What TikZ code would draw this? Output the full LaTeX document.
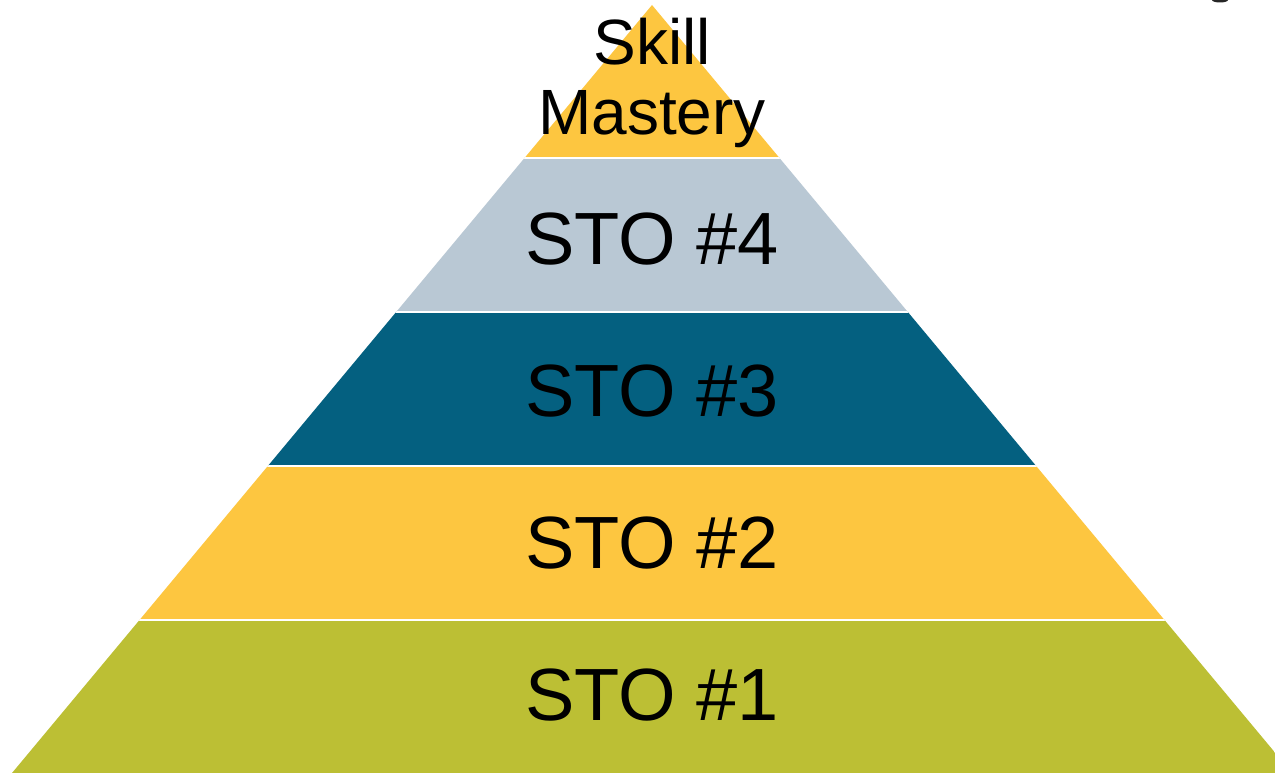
\documentclass[tikz,border=0pt]{standalone}
\usepackage{fontspec}
\setmainfont{Liberation Sans}
\definecolor{pyrYellow}{RGB}{253,198,64}
\definecolor{pyrGray}{RGB}{185,200,212}
\definecolor{pyrTeal}{RGB}{4,96,128}
\definecolor{pyrGreen}{RGB}{188,191,52}
\begin{document}
\begin{tikzpicture}[x=1pt,y=-1pt,
  stolabel/.style={font=\fontsize{74}{80}\selectfont, inner sep=0pt, anchor=base, text=black},
  toplabel/.style={font=\fontsize{64}{70}\selectfont, inner sep=0pt, anchor=base, text=black},
  gap/.style={white, line width=2pt}]
  \useasboundingbox (0,0) rectangle (1275,773);
  \clip (0,0) rectangle (1275,773);
  % pyramid body, sliced into five bands
  \begin{scope}
    \clip (652,5) -- (12,773) -- (1292,773) -- cycle;
    \fill[pyrYellow] (0,0)   rectangle (1300,158);
    \fill[pyrGray]   (0,158) rectangle (1300,312);
    \fill[pyrTeal]   (0,312) rectangle (1300,466);
    \fill[pyrYellow] (0,466) rectangle (1300,620);
    \fill[pyrGreen]  (0,620) rectangle (1300,780);
    \draw[gap] (0,158) -- (1300,158);
    \draw[gap] (0,312) -- (1300,312);
    \draw[gap] (0,466) -- (1300,466);
    \draw[gap] (0,620) -- (1300,620);
  \end{scope}
  % small dark mark at the top edge
  \fill[black!85] (1220,0) ellipse [x radius=8, y radius=2.5];
  % labels
  \node[toplabel] (skill)   at (652,65)  {Skill};
  \node[toplabel] (mastery) at (652,135) {Mastery};
  \node[stolabel] (sto4) at (652,264) {STO \#4};
  \node[stolabel] (sto3) at (652,416) {STO \#3};
  \node[stolabel] (sto2) at (652,568) {STO \#2};
  \node[stolabel] (sto1) at (652,720) {STO \#1};
\end{tikzpicture}
\end{document}
